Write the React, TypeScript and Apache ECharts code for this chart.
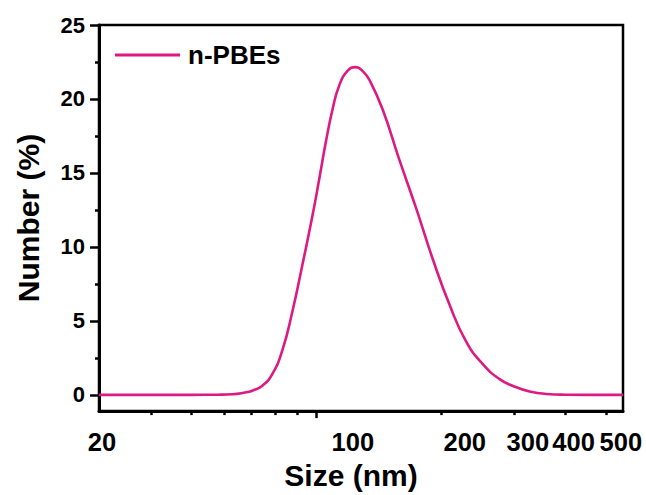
import React, { useEffect, useRef } from 'react';
import * as echarts from 'echarts';

// ---- data ----
const seriesName = 'n-PBEs';
const sizes = [30, 40, 50, 58, 63, 67, 70.3, 74.3, 78.5, 83.0, 87.8, 92.8, 98.1, 101.9, 105.7, 109.7, 113.8, 119.2, 124.8, 130, 134.5, 144.8, 158.9, 174.5, 191.2, 209.9, 230.3, 252.6, 277.2, 298.5, 327.5, 359.4, 400, 450, 500, 550];
const numbers = [0, 0, 0, 0.01, 0.04, 0.14, 0.28, 0.62, 1.4, 3.0, 5.65, 8.8, 12.1, 14.6, 17.1, 19.3, 20.9, 21.9, 22.15, 21.85, 21.3, 19.3, 15.9, 12.6, 9.2, 6.1, 3.6, 2.07, 1.06, 0.6, 0.23, 0.06, 0.01, 0, 0, 0];

const xLabelValues = [30, 100, 200, 300, 400, 500];
const xLabelTexts = ['20', '100', '200', '300', '400', '500'];
const xMinorTicks = [40, 50, 60, 70, 80, 90, 200, 300, 400, 500];
const xMajorTicks = [100];
const yMajorTicks = [0, 5, 10, 15, 20, 25];
const yMinorTicks = [2.5, 7.5, 12.5, 17.5, 22.5];

// style: horizontal shift of each x label (px), as placed in the reference
const xLabelShift = [3, 37, 24, 14, 8, 15];

const FONT = '"Liberation Sans", Arial, Helvetica, sans-serif';
const LINE_COLOR = '#DC1A82';

export default function App() {
  const ref = useRef<HTMLDivElement>(null);

  useEffect(() => {
    if (!ref.current) return;
    const chart = echarts.init(ref.current, null, { renderer: 'svg' });

    const rich: Record<string, any> = {};
    xLabelTexts.forEach((_, i) => {
      rich['s' + i] = {
        fontFamily: FONT,
        fontWeight: 'bold',
        fontSize: 25.5,
        color: '#000',
        padding: [0, 0, 0, 2 * xLabelShift[i]],
      };
    });

    const findIdx = (v: number) =>
      xLabelValues.findIndex((x) => Math.abs(Math.log10(x) - Math.log10(v)) < 0.005);

    const option: any = {
      animation: false,
      backgroundColor: '#fff',
      grid: {
        left: 99,
        right: 23,
        top: 25,
        bottom: 82,
        show: true,
        borderColor: '#000',
        borderWidth: 2.5,
        backgroundColor: 'transparent',
      },
      legend: {
        data: [{ name: seriesName, icon: 'rect' }],
        left: 115,
        top: 42,
        padding: 0,
        itemWidth: 65,
        itemHeight: 3,
        textStyle: {
          fontFamily: FONT,
          fontWeight: 'bold',
          fontSize: 26,
          color: '#000',
          padding: [0, 0, 0, 3],
        },
      },
      xAxis: [
        {
          type: 'log',
          logBase: 10,
          min: 30,
          max: 550,
          name: 'Size (nm)',
          nameLocation: 'middle',
          nameGap: 40,
          nameTextStyle: {
            fontFamily: FONT,
            fontWeight: 'bold',
            fontSize: 30,
            color: '#000',
            padding: [0, 20, 0, 0],
          },
          axisLine: { onZero: false, lineStyle: { color: '#000', width: 3 } },
          axisTick: {
            show: true,
            inside: false,
            length: 4,
            customValues: xMinorTicks,
            lineStyle: { color: '#000', width: 2.5 },
          },
          minorTick: { show: false },
          splitLine: { show: false },
          axisLabel: {
            customValues: xLabelValues,
            margin: 18,
            formatter: (v: number) => {
              const i = findIdx(v);
              if (i < 0) return '';
              return `{s${i}|${xLabelTexts[i]}}`;
            },
            rich,
          },
        },
        {
          type: 'log',
          logBase: 10,
          min: 30,
          max: 550,
          position: 'bottom',
          axisLine: { show: false, onZero: false },
          axisTick: {
            show: true,
            inside: false,
            length: 7,
            customValues: xMajorTicks,
            lineStyle: { color: '#000', width: 2.5 },
          },
          axisLabel: { show: false },
          splitLine: { show: false },
        },
      ],
      yAxis: [
        {
          type: 'value',
          min: -1.1,
          max: 25,
          position: 'left',
          name: 'Number (%)',
          nameLocation: 'middle',
          nameGap: 56,
          nameTextStyle: { fontFamily: FONT, fontWeight: 'bold', fontSize: 30, color: '#000' },
          axisLine: { show: true, onZero: false, lineStyle: { color: '#000', width: 3 } },
          axisTick: {
            show: true,
            inside: false,
            length: 9,
            customValues: yMajorTicks,
            lineStyle: { color: '#000', width: 2.5 },
          },
          axisLabel: {
            customValues: yMajorTicks,
            margin: 14,
            fontFamily: FONT,
            fontWeight: 'bold',
            fontSize: 22,
            color: '#000',
          },
          splitLine: { show: false },
        },
        {
          type: 'value',
          min: -1.1,
          max: 25,
          position: 'left',
          axisLine: { show: false, onZero: false },
          axisTick: {
            show: true,
            inside: false,
            length: 4,
            customValues: yMinorTicks,
            lineStyle: { color: '#000', width: 2.5 },
          },
          axisLabel: { show: false },
          splitLine: { show: false },
        },
      ],
      series: [
        {
          name: seriesName,
          type: 'line',
          xAxisIndex: 0,
          yAxisIndex: 0,
          data: sizes.map((s, i) => [s, numbers[i]]),
          showSymbol: false,
          smooth: 0.5,
          lineStyle: { color: LINE_COLOR, width: 2.6 },
          itemStyle: { color: LINE_COLOR },
        },
      ],
    };

    chart.setOption(option);
    return () => chart.dispose();
  }, []);

  return (
    <div
      ref={ref}
      style={{ position: 'fixed', left: 0, top: 0, width: 646, height: 495, background: '#fff' }}
    />
  );
}
